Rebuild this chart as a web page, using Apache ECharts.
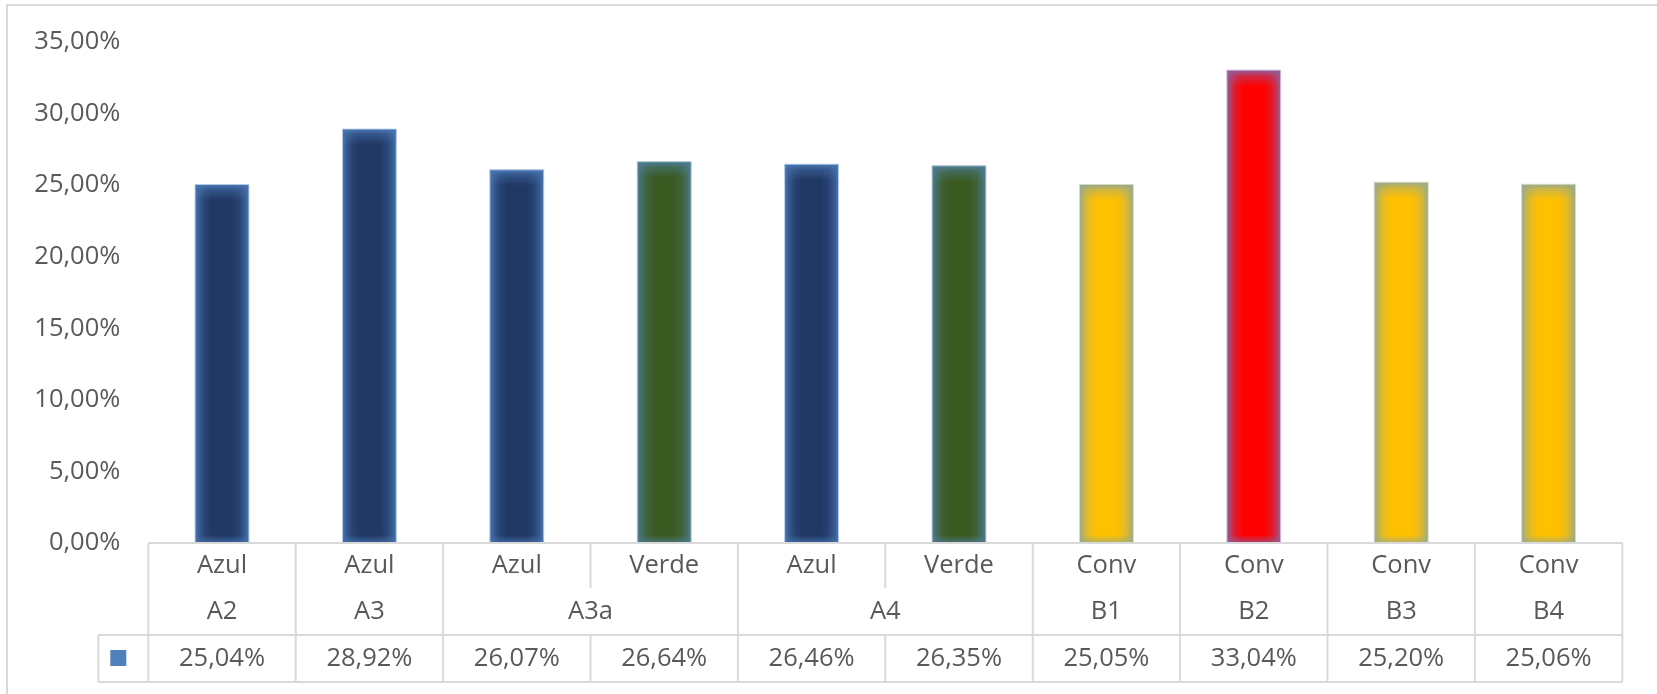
<!DOCTYPE html>
<html>
<head>
<meta charset="utf-8">
<script src="https://cdn.jsdelivr.net/npm/echarts@6/dist/echarts.min.js"></script>
<style>
  html, body { margin: 0; padding: 0; background: #fff; }
  #chart { width: 1657px; height: 694px; }
</style>
</head>
<body>
<div id="chart"></div>
<script>
// ---- data ----
const groups = ['A2', 'A3', 'A3a', 'A3a', 'A4', 'A4', 'B1', 'B2', 'B3', 'B4'];
const types = ['Azul', 'Azul', 'Azul', 'Verde', 'Azul', 'Verde', 'Conv', 'Conv', 'Conv', 'Conv'];
const values = [25.04, 28.92, 26.07, 26.64, 26.46, 26.35, 25.05, 33.04, 25.20, 25.06];
const yMin = 0, yMax = 35, yInterval = 5;
const categories = types.map((t, i) => t + ' ' + groups[i]);

// ---- styles ----
const FONT = 'Open Sans';
const FS = 25.5;
const TXT = '#595959';
const LINE = '#d9d9d9';
const palette = {
  Azul:  { center: [32, 56, 100],  edge: [72, 118, 178],  border: 'rgba(190,208,235,0.9)' },
  Verde: { center: [58, 90, 34],   edge: [78, 126, 150],  border: 'rgba(190,208,220,0.9)' },
  Conv:  { center: [255, 192, 0],  edge: [150, 170, 140], border: 'rgba(215,222,205,0.9)' },
  Alert: { center: [255, 0, 0],    edge: [140, 98, 160],  border: 'rgba(225,205,230,0.9)' }
};
function styleFor(i) {
  if (groups[i] === 'B2') return palette.Alert;
  return palette[types[i]];
}
const fmtPct = v => v.toFixed(2).replace('.', ',') + '%';
const rgba = (c, a) => 'rgba(' + c[0] + ',' + c[1] + ',' + c[2] + ',' + a + ')';
const mix = (a, b, t) => [0, 1, 2].map(k => Math.round(a[k] + (b[k] - a[k]) * t));

const chart = echarts.init(document.getElementById('chart'), null, { renderer: 'canvas' });

const option = {
  animation: false,
  backgroundColor: '#fff',
  grid: { left: 148.3, right: 34.7, top: 42, bottom: 151, containLabel: false },
  xAxis: {
    type: 'category',
    data: categories,
    axisLine: { show: false },
    axisTick: { show: false },
    axisLabel: { show: false },
    splitLine: { show: false }
  },
  yAxis: {
    type: 'value',
    min: yMin, max: yMax, interval: yInterval,
    axisLine: { show: false },
    axisTick: { show: false },
    splitLine: { show: false },
    axisLabel: {
      formatter: fmtPct,
      color: TXT, fontFamily: FONT, fontSize: FS, margin: 28
    }
  },
  series: [{
    type: 'custom',
    data: values.map((v, i) => [i, v]),
    encode: { x: 0, y: 1 },
    renderItem: function (params, api) {
      const i = api.value(0), v = api.value(1);
      const base = api.coord([i, 0]);
      const top = api.coord([i, v]);
      const bw = api.size([1, 0])[0] * 0.366;
      const x = base[0] - bw / 2, y = top[1], h = base[1] - top[1];
      const st = styleFor(i);
      const c = st.center, e = st.edge;
      const stopsH = [
        { offset: 0, color: rgba(e, 1) },
        { offset: 0.08, color: rgba(mix(e, c, 0.45), 1) },
        { offset: 0.18, color: rgba(mix(e, c, 0.8), 1) },
        { offset: 0.32, color: rgba(c, 1) },
        { offset: 0.68, color: rgba(c, 1) },
        { offset: 0.82, color: rgba(mix(e, c, 0.8), 1) },
        { offset: 0.92, color: rgba(mix(e, c, 0.45), 1) },
        { offset: 1, color: rgba(e, 1) }
      ];
      const glow = 16;
      return {
        type: 'group',
        children: [
          { type: 'rect', shape: { x: x, y: y, width: bw, height: h },
            style: { fill: { type: 'linear', x: 0, y: 0, x2: 1, y2: 0, colorStops: stopsH } } },
          { type: 'rect', shape: { x: x, y: y, width: bw, height: glow },
            style: { fill: { type: 'linear', x: 0, y: 0, x2: 0, y2: 1, colorStops: [
              { offset: 0, color: rgba(e, 1) }, { offset: 0.35, color: rgba(e, 0.45) },
              { offset: 1, color: rgba(e, 0) } ] } } },
          { type: 'rect', shape: { x: x, y: base[1] - 8, width: bw, height: 8 },
            style: { fill: { type: 'linear', x: 0, y: 0, x2: 0, y2: 1, colorStops: [
              { offset: 0, color: rgba(e, 0) }, { offset: 1, color: rgba(e, 0.7) } ] } } },
          { type: 'rect', shape: { x: x, y: y, width: bw, height: h },
            style: { fill: 'none', stroke: st.border, lineWidth: 1 } }
        ]
      };
    }
  }]
};
chart.setOption(option);

// ---- data table under the axis, positioned from the axis scale ----
function buildTable() {
  const n = categories.length;
  const px = i => chart.convertToPixel({ xAxisIndex: 0 }, i);
  const band = px(1) - px(0);
  const left = px(0) - band / 2;
  const right = px(n - 1) + band / 2;
  const yTop = chart.convertToPixel({ yAxisIndex: 0 }, 0);
  const r1 = yTop + 45, r2 = yTop + 92, r3 = yTop + 139;
  const keyLeft = left - 50;
  const els = [];
  const line = (x1, y1, x2, y2) => els.push({
    type: 'line', shape: { x1: x1, y1: y1, x2: x2, y2: y2 },
    style: { stroke: LINE, lineWidth: 2 }, z: 10
  });
  const text = (t, cx, cy) => els.push({
    type: 'text', x: cx, y: cy,
    style: { text: t, fill: TXT, font: FS + 'px "' + FONT + '"', align: 'center', verticalAlign: 'middle' },
    z: 11
  });
  // outer chart border
  els.push({ type: 'rect', shape: { x: 7, y: 5, width: 1700, height: 760 },
    style: { fill: 'none', stroke: LINE, lineWidth: 2 }, z: 1 });
  // horizontal lines
  line(left, yTop, right, yTop);
  line(keyLeft, r2, right, r2);
  line(keyLeft, r3, right, r3);
  // verticals
  line(left, yTop, left, r3);
  line(right, yTop, right, r3);
  line(keyLeft, r2, keyLeft, r3);
  for (let i = 1; i < n; i++) {
    const bx = left + band * i;
    if (groups[i] === groups[i - 1]) line(bx, yTop, bx, r1);
    else line(bx, yTop, bx, r2);
    line(bx, r2, bx, r3);
  }
  // row 1: types, row 3: values
  for (let i = 0; i < n; i++) {
    const cx = px(i);
    text(types[i], cx, yTop + 23);
    text(fmtPct(values[i]), cx, yTop + 116);
  }
  // row 2: merged group labels
  let s = 0;
  for (let i = 1; i <= n; i++) {
    if (i === n || groups[i] !== groups[s]) {
      text(groups[s], (px(s) + px(i - 1)) / 2, yTop + 69);
      s = i;
    }
  }
  // legend key
  els.push({ type: 'rect', shape: { x: keyLeft + 12, y: yTop + 107, width: 16, height: 16 },
    style: { fill: '#4f81bd' }, z: 11 });
  chart.setOption({ graphic: { elements: els } });
}
buildTable();
</script>
</body>
</html>
